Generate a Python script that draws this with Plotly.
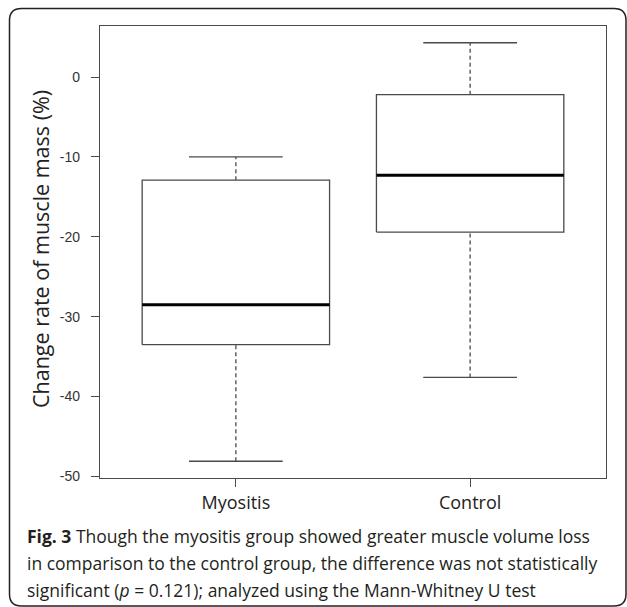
import plotly.graph_objects as go

# Change rate of muscle mass (%) per group: five-number summaries
categories = ["Myositis", "Control"]
lower_whisker = [-48.1, -37.6]
q1 = [-33.5, -19.4]
median = [-28.5, -12.3]
q3 = [-12.9, -2.2]
upper_whisker = [-10.0, 4.3]

y_ticks = [0, -10, -20, -30, -40, -50]

W, H = 627, 607
L, R, T, B = 100, 21, 26, 129
PW, PH = W - L - R, H - T - B


def px(xp):
    return (xp - L) / PW


def py(yp):
    return (H - B - yp) / PH


BOX_HALF = 0.4
CAP_HALF = 0.2
EDGE = "#4a4a4a"

fig = go.Figure()

for i, name in enumerate(categories):
    c = i + 1
    # dashed whiskers
    for a, b in ((q3[i], upper_whisker[i]), (lower_whisker[i], q1[i])):
        fig.add_trace(go.Scatter(x=[c, c], y=[a, b], mode="lines",
                                 line=dict(color=EDGE, width=1.3, dash="4px,3px"),
                                 hoverinfo="skip", showlegend=False))
    # whisker caps
    for v in (upper_whisker[i], lower_whisker[i]):
        fig.add_trace(go.Scatter(x=[c - CAP_HALF, c + CAP_HALF], y=[v, v], mode="lines",
                                 line=dict(color=EDGE, width=1.3),
                                 hoverinfo="skip", showlegend=False))
    # box
    fig.add_trace(go.Scatter(
        x=[c - BOX_HALF, c + BOX_HALF, c + BOX_HALF, c - BOX_HALF, c - BOX_HALF],
        y=[q1[i], q1[i], q3[i], q3[i], q1[i]],
        mode="lines", fill="toself", fillcolor="white",
        line=dict(color=EDGE, width=1.3), name=name, showlegend=False))
    # median
    fig.add_trace(go.Scatter(x=[c - BOX_HALF, c + BOX_HALF], y=[median[i], median[i]],
                             mode="lines", line=dict(color="black", width=3),
                             hoverinfo="skip", showlegend=False))

fig.update_layout(
    width=W, height=H,
    margin=dict(l=L, r=R, t=T, b=B),
    paper_bgcolor="white", plot_bgcolor="white",
    showlegend=False,
    xaxis=dict(range=[0.42, 2.58], tickvals=[1, 2], ticktext=categories,
               showgrid=False, zeroline=False, showline=True, mirror=True,
               linecolor=EDGE, linewidth=1.2, ticks="outside", ticklen=8,
               tickcolor=EDGE, tickwidth=1.2,
               tickfont=dict(family="Open Sans", size=18, color="#222")),
    yaxis=dict(range=[-50.2, 6.4], tickvals=y_ticks, ticktext=[str(v) for v in y_ticks],
               showgrid=False, zeroline=False, showline=True, mirror=True,
               linecolor=EDGE, linewidth=1.2, ticks="outside", ticklen=8,
               tickcolor=EDGE, tickwidth=1.2, ticklabelstandoff=8,
               tickfont=dict(family="Liberation Sans", size=14, color="#333")),
)

# axis title
fig.add_annotation(text="Change rate of muscle mass (%)", textangle=-90,
                   xref="paper", yref="paper", x=px(40), y=py(249),
                   xanchor="center", yanchor="middle", showarrow=False,
                   font=dict(family="Open Sans", size=21.5, color="#222"))

# figure caption
caption = [
    "<b>Fig. 3</b> Though the myositis group showed greater muscle volume loss",
    "in comparison to the control group, the difference was not statistically",
    "significant (<i>p</i> = 0.121); analyzed using the Mann-Whitney U test",
]
for k, line in enumerate(caption):
    fig.add_annotation(text=line, xref="paper", yref="paper",
                       x=px(25), y=py(535.5 + 27.3 * k),
                       xanchor="left", yanchor="middle", showarrow=False,
                       font=dict(family="Open Sans", size=17.5, color="#231f20"))

# rounded card border
r = 12
x0, y0, x1, y1 = 9.5, 8.5, 626, 606
path = (f"M {px(x0)},{py(y0 + r)} Q {px(x0)},{py(y0)} {px(x0 + r)},{py(y0)} "
        f"L {px(x1 - r)},{py(y0)} Q {px(x1)},{py(y0)} {px(x1)},{py(y0 + r)} "
        f"L {px(x1)},{py(y1 - r)} Q {px(x1)},{py(y1)} {px(x1 - r)},{py(y1)} "
        f"L {px(x0 + r)},{py(y1)} Q {px(x0)},{py(y1)} {px(x0)},{py(y1 - r)} Z")
fig.add_shape(type="path", path=path, xref="paper", yref="paper",
              line=dict(color="#222", width=1.5), layer="below")

fig.write_html("out.html")
